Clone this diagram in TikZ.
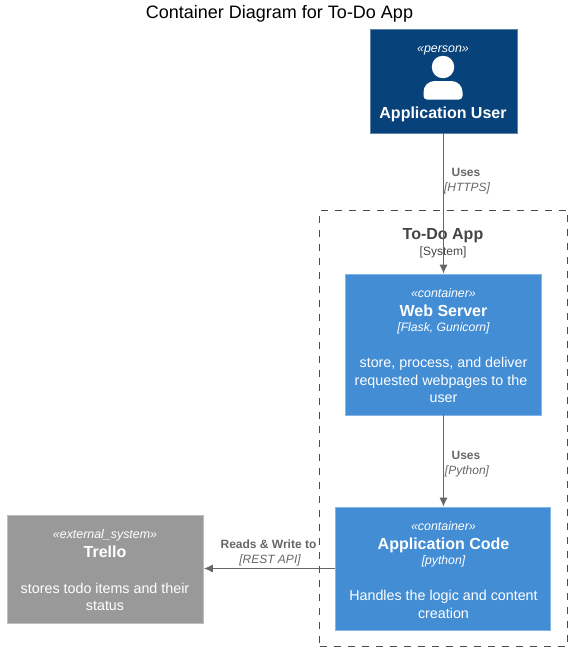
\documentclass[tikz,border=0pt]{standalone}
\usepackage{fontspec}
\setmainfont{Liberation Sans}
\usetikzlibrary{positioning,arrows.meta}
\definecolor{persoblue}{HTML}{08427B}
\definecolor{contblue}{HTML}{438DD5}
\definecolor{extgray}{HTML}{999999}
\definecolor{linegray}{HTML}{666666}
\definecolor{boundtext}{HTML}{444444}
\newcommand{\fs}[1]{\fontsize{#1}{#1}\selectfont}
\tikzset{
 box/.style
  = {rectangle, draw=#1!65!white, fill=#1, line width=0.8pt, inner sep=0pt},
 txt/.style
  = {inner sep=0pt, anchor=base, text=white},
 stereo/.style
  = {txt, font=\fs{12.4}\itshape},
 title/.style
  = {txt, font=\fs{16}\bfseries},
 tech/.style
  = {txt, font=\fs{12.2}\itshape},
 desc/.style
  = {txt, font=\fs{14.3}},
 conn/.style
  = {draw=linegray, -{Latex[length=9pt,width=8pt]}, line width=1pt},
 relname/.style
  = {txt, text=linegray, font=\fs{12}\bfseries},
 reltech/.style
  = {txt, text=linegray, font=\fs{12}\itshape},
 boundary/.style
  = {rectangle, draw=black!70, dash pattern=on 7pt off 7pt, line width=0.8pt},
}

\begin{document}
\begin{tikzpicture}[x=1pt,y=-1pt]
\useasboundingbox (0,0) rectangle (572,651);

% Title
\node[txt,text=black,font=\fs{18}] (heading) at (279.5,18) {Container Diagram for To-Do App};

% System boundary
\node[boundary,minimum width=248pt,minimum height=436pt] (system) at (443.5,428) {};
\node[title,text=boundtext] (systitle) at (443,239) {To-Do App};
\node[tech,text=boundtext,font=\fs{12}] (systype) at (443,255) {[System]};

% Application User
\node[box=persoblue,minimum width=147pt,minimum height=104pt] (user) at (443.5,81) {};
\node[stereo] (userstereo) at (443,52) {«person»};
\node[circle,fill=white,minimum size=22.5pt,inner sep=0pt] (userhead) at (443,67) {};
\fill[white] (443,99.5) [rounded corners=3.5pt] -- (423.5,99.5) [rounded corners=11pt] -- (423.5,81)
  -- (462.5,81) [rounded corners=3.5pt] -- (462.5,99.5) -- cycle;
\node[title] (username) at (443,118.5) {Application User};

% Web Server
\node[box=contblue,minimum width=196.5pt,minimum height=141pt] (web) at (443.5,344.5) {};
\node[stereo] (webstereo) at (443.5,297) {«container»};
\node[title] (webname) at (443.5,316) {Web Server};
\node[tech] (webtech) at (443.5,331) {[Flask, Gunicorn]};
\node[desc] (webdesc1) at (443.5,367) {store, process, and deliver};
\node[desc] (webdesc2) at (441,385) {requested webpages to the};
\node[desc] (webdesc3) at (443.5,402) {user};

% Application Code
\node[box=contblue,minimum width=215.5pt,minimum height=123pt] (app) at (443,568.5) {};
\node[stereo] (appstereo) at (443.5,530) {«container»};
\node[title] (appname) at (443.5,549) {Application Code};
\node[tech] (apptech) at (443.5,564) {[python]};
\node[desc] (appdesc1) at (443.5,600) {Handles the logic and content};
\node[desc] (appdesc2) at (443.5,618) {creation};

% Trello
\node[box=extgray,minimum width=196.5pt,minimum height=108.5pt] (trello) at (105.25,569.5) {};
\node[stereo] (trellostereo) at (105,538) {«external\_system»};
\node[title] (trelloname) at (105,557) {Trello};
\node[desc] (trellodesc1) at (105,593) {stores todo items and their};
\node[desc] (trellodesc2) at (105,610) {status};

% Connectors
\draw[conn] (user) -- (web);
\draw[conn] (web) -- (web |- app.north);
\draw[conn] (app.west) -- (app.west -| trello.east);

% Connector labels
\node[relname] (uses1) at (466,176) {Uses};
\node[reltech] (https) at (467,191) {[HTTPS]};
\node[relname] (uses2) at (466,459) {Uses};
\node[reltech] (python) at (467,474) {[Python]};
\node[relname] (reads) at (268.5,548) {Reads \& Write to};
\node[reltech] (rest) at (270,563) {[REST API]};

\end{tikzpicture}
\end{document}
